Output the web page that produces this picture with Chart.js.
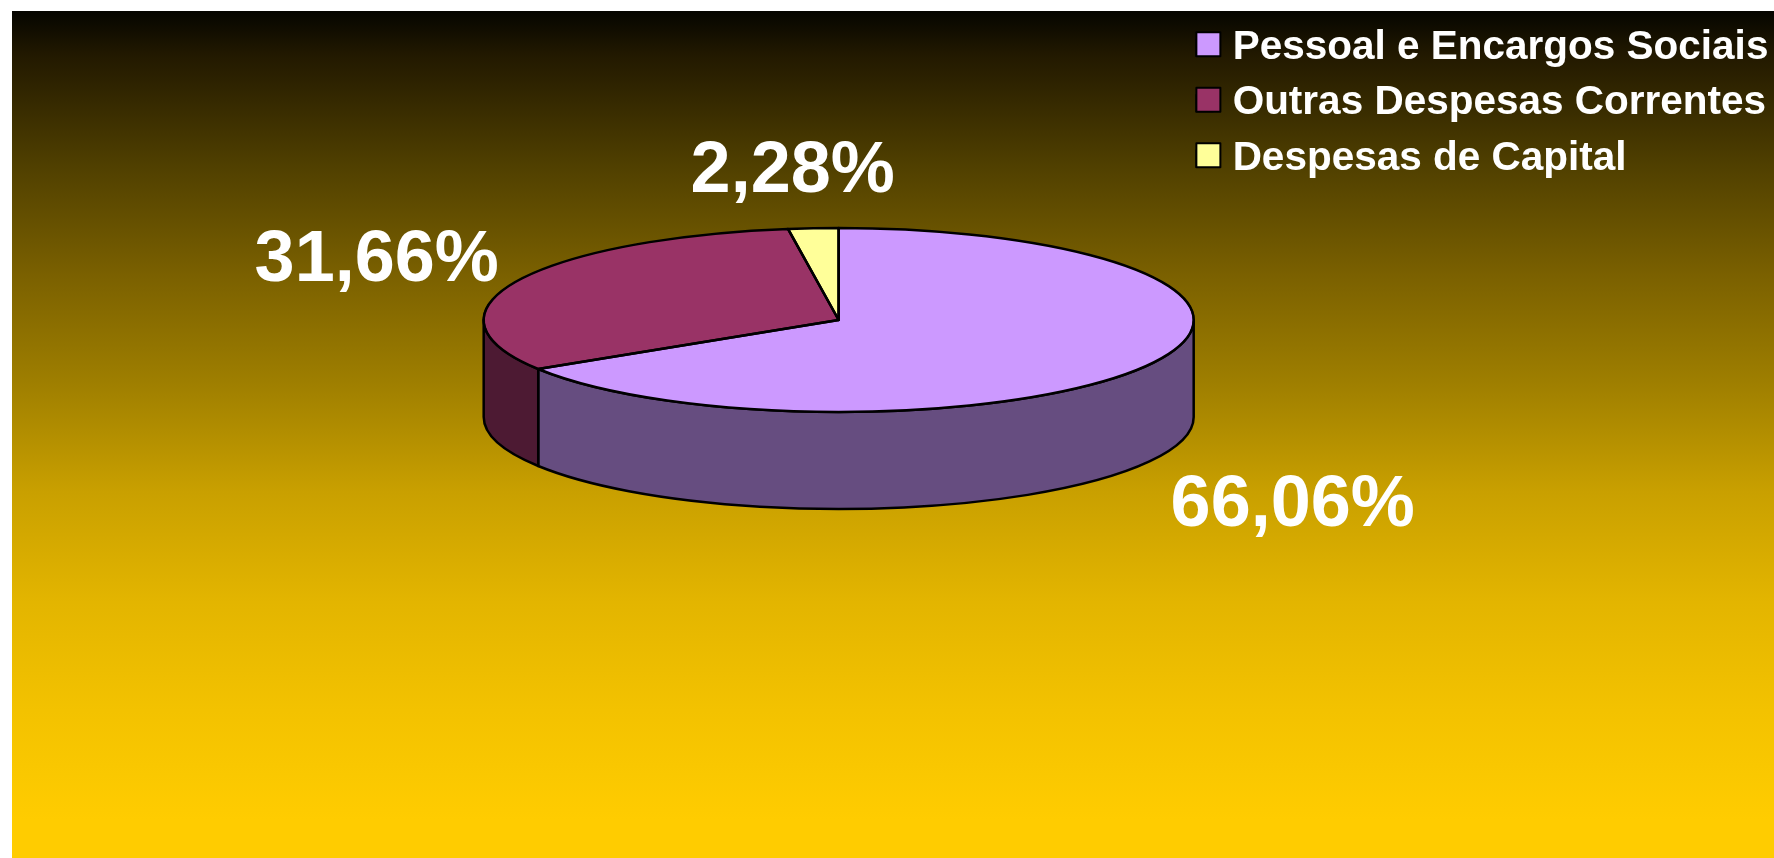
<!DOCTYPE html>
<html>
<head>
<meta charset="utf-8">
<title>Despesas</title>
<script src="https://cdn.jsdelivr.net/npm/chart.js@4"></script>
<style>
    html, body { margin: 0; padding: 0; background: #fff; }
    #box { width: 1774px; height: 858px; }
</style>
</head>
<body>
<div id="box"><canvas id="graficoDespesas"></canvas></div>
<script>
const categorias = ['Pessoal e Encargos Sociais', 'Outras Despesas Correntes', 'Despesas de Capital'];
const valores = [66.06, 31.66, 2.28];
const cores = ['#CC99FF', '#993366', '#FFFF99'];
const coresLaterais = ['#664D80', '#4D1A33', '#808050'];

const RAIO = 355;
const ACHATAMENTO = 92 / 355;
const ALTURA = 97;
const LADO_LEGENDA = 24;
// onde cada rotulo fica, em relacao ao centro da pizza
const deslocRotulos = [[454, 186], [-462, -59], [-46, -148]];

function arcoElipse(ctx, arc, ini, fim, dy, inverso) {
    ctx.ellipse(arc.x, arc.y + dy, arc.outerRadius, arc.outerRadius * ACHATAMENTO, 0,
        inverso ? fim : ini, inverso ? ini : fim, inverso);
}

const pizza3d = {
    id: 'pizza3d',
    beforeDraw(chart) {
        const ctx = chart.ctx;
        const grad = ctx.createLinearGradient(0, 11, 0, 858);
        grad.addColorStop(0, '#050500');
        grad.addColorStop(0.052, '#221900');
        grad.addColorStop(0.18, '#4F3F00');
        grad.addColorStop(0.31, '#7A6000');
        grad.addColorStop(0.44, '#9F7F00');
        grad.addColorStop(0.568, '#C9A000');
        grad.addColorStop(0.698, '#E3B500');
        grad.addColorStop(0.826, '#F3C200');
        grad.addColorStop(0.955, '#FFCC00');
        ctx.save();
        ctx.fillStyle = grad;
        ctx.fillRect(12, 11, chart.width - 12, chart.height - 11);
        ctx.restore();
    },
    beforeDatasetsDraw(chart) {
        const ctx = chart.ctx;
        const arcos = chart.getDatasetMeta(0).data;
        ctx.lineWidth = 2.5;
        ctx.strokeStyle = '#000';
        ctx.lineJoin = 'round';
        // parede lateral, so a parte da frente
        arcos.forEach(function(arc, i) {
            const ini = Math.max(arc.startAngle, 0);
            const fim = Math.min(arc.endAngle, Math.PI);
            if (fim <= ini) return;
            ctx.beginPath();
            arcoElipse(ctx, arc, ini, fim, 0, false);
            arcoElipse(ctx, arc, ini, fim, ALTURA, true);
            ctx.closePath();
            ctx.fillStyle = coresLaterais[i];
            ctx.fill();
            ctx.stroke();
        });
        // o topo e o proprio desenho do Chart.js, achatado
        const cy = arcos[0].y;
        ctx.save();
        ctx.translate(0, cy);
        ctx.scale(1, ACHATAMENTO);
        ctx.translate(0, -cy);
    },
    afterDatasetsDraw(chart) {
        const ctx = chart.ctx;
        ctx.restore();
        const arcos = chart.getDatasetMeta(0).data;
        ctx.save();
        ctx.lineWidth = 2.5;
        ctx.strokeStyle = '#000';
        ctx.lineJoin = 'round';
        arcos.forEach(function(arc) {
            ctx.beginPath();
            ctx.moveTo(arc.x, arc.y);
            arcoElipse(ctx, arc, arc.startAngle, arc.endAngle, 0, false);
            ctx.closePath();
            ctx.stroke();
        });
        ctx.font = 'bold 72px "Liberation Sans"';
        ctx.fillStyle = '#fff';
        ctx.textAlign = 'center';
        ctx.textBaseline = 'middle';
        arcos.forEach(function(arc, i) {
            const txt = valores[i].toFixed(2).replace('.', ',') + '%';
            ctx.fillText(txt, arc.x + deslocRotulos[i][0], arc.y + deslocRotulos[i][1]);
        });
        ctx.restore();
    },
    afterDraw(chart) {
        // quadradinhos da legenda um pouco maiores, o Chart.js deixa muito espaco ate o texto
        const ctx = chart.ctx;
        ctx.save();
        ctx.lineWidth = 2;
        ctx.strokeStyle = '#000';
        chart.legend.legendHitBoxes.forEach(function(hit, i) {
            const y = hit.top + (hit.height - LADO_LEGENDA) / 2 - 3.5;
            ctx.fillStyle = cores[i];
            ctx.fillRect(hit.left, y, LADO_LEGENDA, LADO_LEGENDA);
            ctx.strokeRect(hit.left, y, LADO_LEGENDA, LADO_LEGENDA);
        });
        ctx.restore();
    }
};

new Chart(document.getElementById('graficoDespesas'), {
    type: 'pie',
    data: {
        labels: categorias,
        datasets: [{
            data: valores,
            backgroundColor: cores,
            borderColor: '#000',
            borderWidth: 2,
            radius: RAIO,
            clip: false
        }]
    },
    options: {
        responsive: true,
        maintainAspectRatio: false,
        animation: false,
        layout: {
            padding: { left: 496, top: 12.5, right: -4.4, bottom: 230.5 }
        },
        plugins: {
            legend: {
                position: 'right',
                align: 'start',
                labels: {
                    color: '#fff',
                    boxWidth: 16,
                    boxHeight: 16,
                    padding: 15,
                    font: { family: '"Liberation Sans"', size: 40.5, weight: 'bold' }
                }
            },
            tooltip: { enabled: false }
        }
    },
    plugins: [pizza3d]
});
</script>
</body>
</html>
